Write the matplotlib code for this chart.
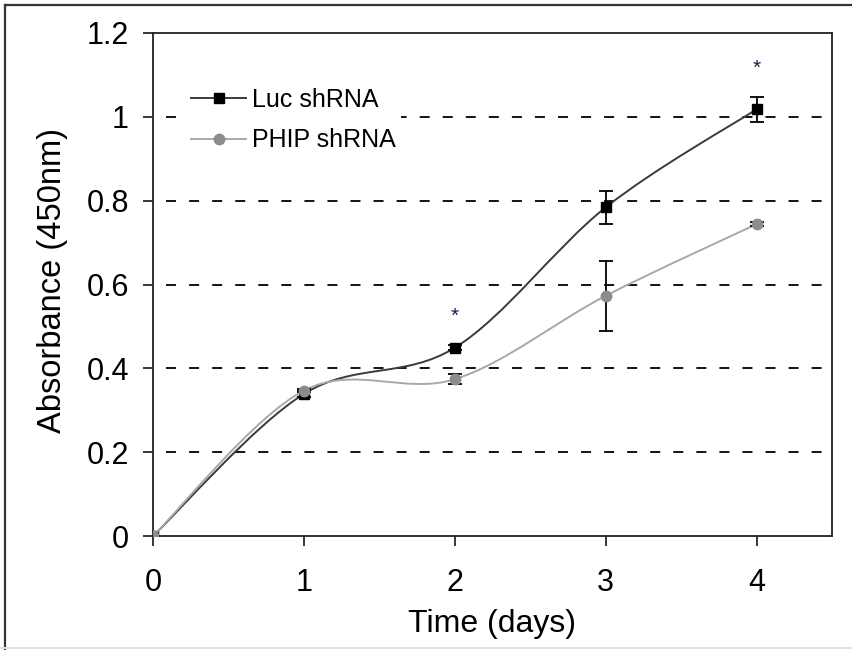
import matplotlib
matplotlib.use('Agg')
import matplotlib.pyplot as plt
from matplotlib.path import Path
from matplotlib.patches import PathPatch
from matplotlib.lines import Line2D

plt.rcParams['font.family'] = ['Liberation Sans', 'DejaVu Sans']
plt.rcParams['lines.scale_dashes'] = False

# ---- data ----
days = [0, 1, 2, 3, 4]
luc = [0.0, 0.339, 0.449, 0.784, 1.018]
luc_err = [0.0, 0.008, 0.006, 0.040, 0.030]
phip = [0.0, 0.347, 0.374, 0.573, 0.744]
phip_err = [0.0, 0.004, 0.012, 0.083, 0.005]
sig_days = [2, 4]
sig_y = [0.525, 1.115]
series_names = ['Luc shRNA', 'PHIP shRNA']
xticks = [0, 1, 2, 3, 4]
yticks = [0, 0.2, 0.4, 0.6, 0.8, 1.0, 1.2]
ytick_labels = ['0', '0.2', '0.4', '0.6', '0.8', '1', '1.2']
xlabel = 'Time (days)'
ylabel = 'Absorbance (450nm)'

LUC_LINE = '#3a3a3a'
LUC_MARK = '#000000'
PHIP_LINE = '#a8a8a8'
PHIP_MARK = '#8c8c8c'


def smooth_path(x, y):
    """Excel-style smoothed line (Catmull-Rom as cubic Bezier) through the data points."""
    n = len(x)
    verts = [(x[0], y[0])]
    codes = [Path.MOVETO]
    for i in range(n - 1):
        xm, ym = (x[i - 1], y[i - 1]) if i > 0 else (x[i], y[i])
        xp, yp = (x[i + 2], y[i + 2]) if i + 2 < n else (x[i + 1], y[i + 1])
        c1 = (x[i] + (x[i + 1] - xm) / 6.0, y[i] + (y[i + 1] - ym) / 6.0)
        c2 = (x[i + 1] - (xp - x[i]) / 6.0, y[i + 1] - (yp - y[i]) / 6.0)
        verts += [c1, c2, (x[i + 1], y[i + 1])]
        codes += [Path.CURVE4] * 3
    return Path(verts, codes)


W, H = 852, 650
fig = plt.figure(figsize=(W / 100, H / 100), dpi=100)
ax = fig.add_axes([153 / W, (H - 536) / H, (832 - 153) / W, (536 - 33) / H])

ax.set_xlim(0, 4.5)
ax.set_ylim(0, 1.2)

# dashed horizontal gridlines
for yv in yticks[1:-1]:
    ax.axhline(yv, color='black', lw=1.3, linestyle=(7.2, (7.2, 9.4)), zorder=1)

# smoothed lines
ax.add_patch(PathPatch(smooth_path(days, luc), facecolor='none', edgecolor=LUC_LINE,
                       lw=1.4, transform=ax.transData, zorder=3))
ax.errorbar(days, luc, yerr=luc_err, fmt='none', ecolor='black', elinewidth=1.3,
            capsize=5, capthick=1.3, zorder=4)
ax.plot(days, luc, linestyle='none', marker='s', ms=7.5, color=LUC_MARK, zorder=5)

ax.add_patch(PathPatch(smooth_path(days, phip), facecolor='none', edgecolor=PHIP_LINE,
                       lw=1.4, transform=ax.transData, zorder=6))
ax.errorbar(days, phip, yerr=phip_err, fmt='none', ecolor='black', elinewidth=1.3,
            capsize=5, capthick=1.3, zorder=7)
ax.plot(days, phip, linestyle='none', marker='o', ms=7.5, color=PHIP_MARK, zorder=8)

# significance asterisks
for xd, yv in zip(sig_days, sig_y):
    ax.text(xd, yv, '*', ha='center', va='center', fontsize=15, color='#1c1c50', zorder=9)

# axes styling
for s in ax.spines.values():
    s.set_linewidth(1.3)
    s.set_color('#222222')
ax.set_xticks(xticks)
ax.set_xticklabels([str(v) for v in xticks])
ax.set_yticks(yticks)
ax.set_yticklabels(ytick_labels)
ax.tick_params(axis='both', direction='out', length=7.2, width=1.1, labelsize=22, color='black')
ax.tick_params(axis='y', pad=10)
ax.tick_params(axis='x', pad=15.5)
ax.set_xlabel(xlabel, fontsize=23, labelpad=8.5)
ax.set_ylabel(ylabel, fontsize=23.5, labelpad=13)
ax.yaxis.set_label_coords(-0.125, 0.508)

# legend
handles = [
    Line2D([], [], color=LUC_LINE, lw=1.4, marker='s', ms=7.5, mfc=LUC_MARK, mec=LUC_MARK),
    Line2D([], [], color=PHIP_LINE, lw=1.4, marker='o', ms=7.5, mfc=PHIP_MARK, mec=PHIP_MARK),
]
leg = ax.legend(handles, series_names, loc='upper left', bbox_to_anchor=(186 / W, (H - 83) / H),
                bbox_transform=fig.transFigure, fontsize=18, frameon=True, framealpha=1,
                facecolor='white', edgecolor='none', fancybox=False, borderpad=0.2,
                borderaxespad=0, handlelength=2.2, handletextpad=0.25, labelspacing=0.65)
leg.set_zorder(10)

# figure border (left and top) and bottom edge
fig.add_artist(Line2D([5 / W, 5 / W], [0, 1 - 5 / H], transform=fig.transFigure,
                      color='#333333', lw=1.6))
fig.add_artist(Line2D([5 / W, 1], [1 - 5 / H, 1 - 5 / H], transform=fig.transFigure,
                      color='#333333', lw=1.6))
fig.add_artist(Line2D([0, 1], [2 / H, 2 / H], transform=fig.transFigure,
                      color='#e0e0e0', lw=1.5))

fig.savefig('out.png', dpi=100)
